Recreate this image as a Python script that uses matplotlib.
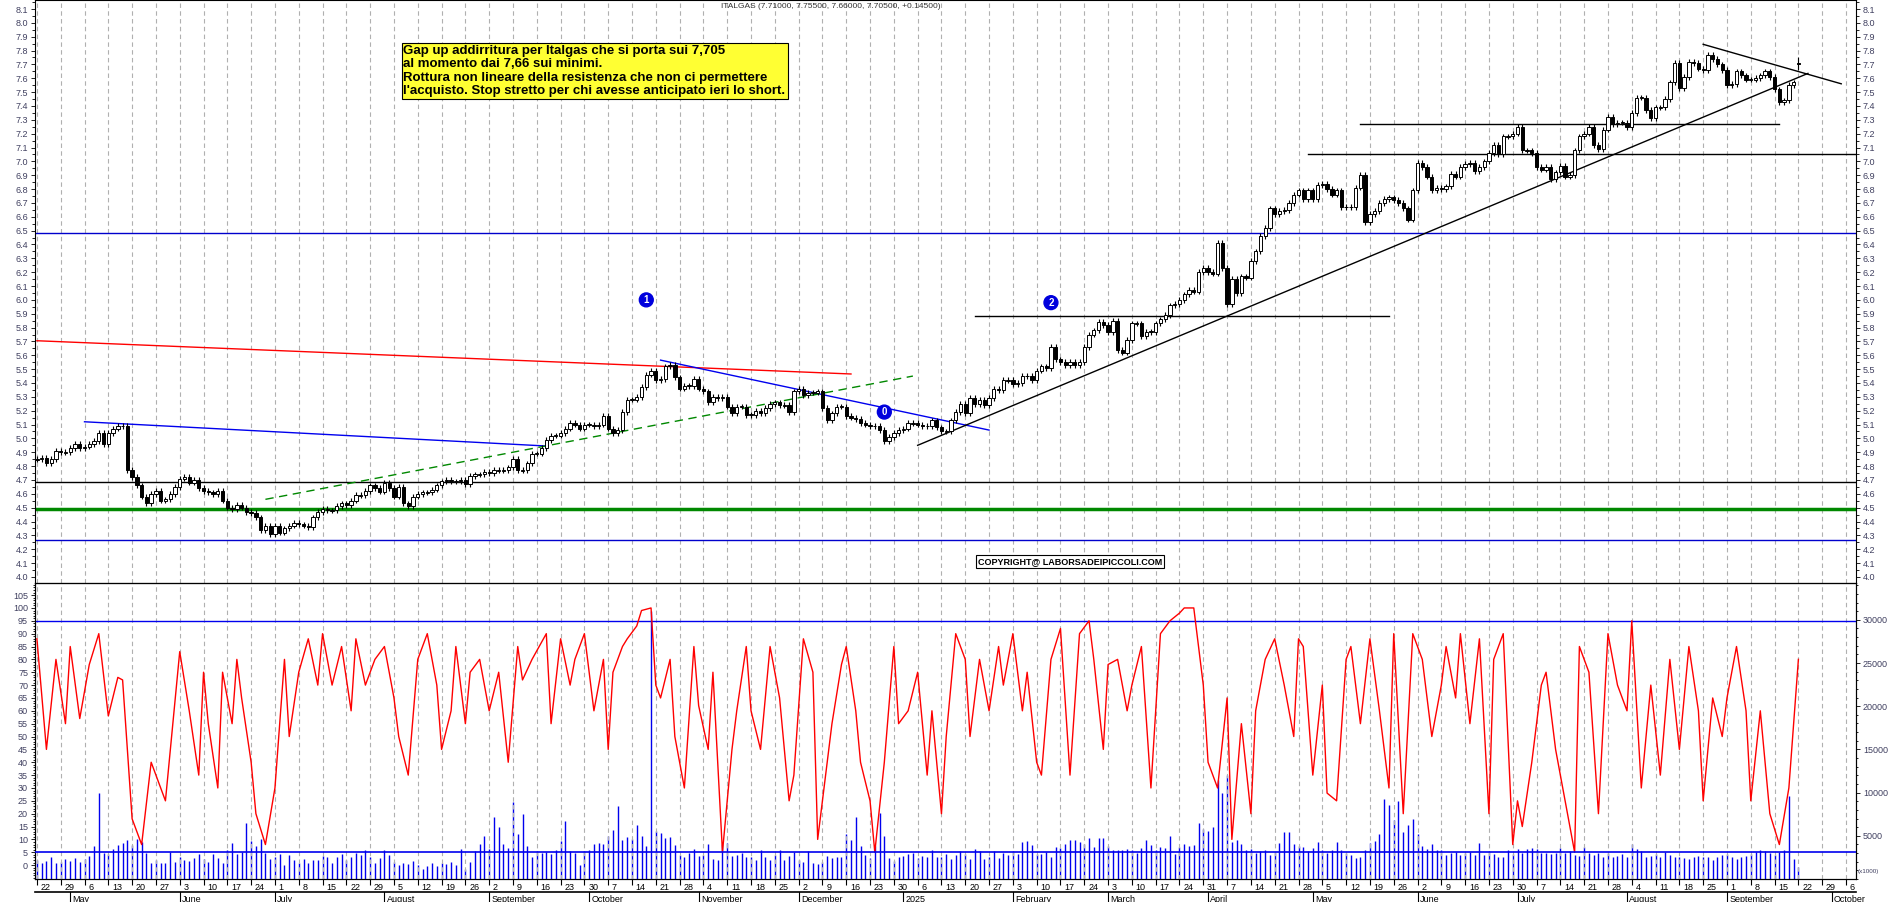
import numpy as np
import pandas as pd
import matplotlib
matplotlib.use("Agg")
import matplotlib.pyplot as plt
from matplotlib.ticker import MultipleLocator, FixedLocator

plt.rcParams["font.family"] = "Liberation Sans"

START = "2024-04-22"
LAST = "2025-09-22"

closes = [
 4.85,4.86,4.82,4.85,4.91,4.90,4.90,4.93,4.96,4.93,4.94,4.96,4.98,5.04,4.96,5.04,5.07,5.09,5.09,4.77,
 4.72,4.66,4.58,4.53,4.60,4.62,4.55,4.56,4.60,4.65,4.71,4.72,4.68,4.70,4.64,4.62,4.61,4.60,4.62,4.55,4.50,
 4.49,4.52,4.50,4.47,4.46,4.43,4.34,4.37,4.31,4.37,4.32,4.35,4.37,4.39,4.38,
 4.37,4.36,4.43,4.47,4.49,4.48,4.48,4.51,4.53,4.52,4.55,4.59,4.59,4.62,4.66,4.64,4.615,4.68,4.64,4.58,
 4.65,4.53,4.51,4.58,4.60,4.61,4.61,4.63,4.66,4.69,4.70,4.69,4.69,4.70,4.67,4.73,4.74,4.74,4.76,
 4.75,4.77,4.77,4.77,4.79,4.85,4.77,4.77,4.82,4.89,4.89,4.93,4.99,5.02,5.02,5.04,5.07,5.11,
 5.10,5.07,5.10,5.10,5.09,5.10,5.16,5.07,5.04,5.06,5.19,5.28,5.28,5.30,5.37,5.46,5.49,5.42,5.43,
 5.52,5.53,5.44,5.36,5.38,5.38,5.43,5.36,5.34,5.26,5.30,5.29,5.30,5.23,5.18,5.23,5.23,5.17,5.17,5.20,
 5.18,5.22,5.25,5.26,5.24,5.24,5.19,5.34,5.36,5.31,5.33,5.33,5.34,5.22,5.13,5.18,5.23,5.23,5.16,5.15,
 5.14,5.11,5.10,5.09,5.09,5.06,4.98,5.01,5.04,5.06,5.07,5.11,5.11,5.10,5.09,5.09,5.13,5.08,5.05,5.05,
 5.13,5.19,5.25,5.18,5.29,5.25,5.28,5.24,5.29,5.36,5.35,5.42,5.42,5.39,5.40,5.45,5.45,5.42,5.49,5.52,
 5.51,5.66,5.57,5.55,5.53,5.55,5.53,5.55,5.66,5.75,5.78,5.84,5.82,5.77,5.85,5.64,5.62,5.71,5.83,5.83,
 5.74,5.77,5.77,5.83,5.86,5.89,5.96,5.97,6.00,6.04,6.07,6.06,6.20,
 6.23,6.20,6.19,6.41,6.23,5.97,6.15,6.05,6.17,6.16,6.28,6.35,6.46,6.52,6.66,6.62,6.64,6.65,6.70,6.76,
 6.79,6.73,6.79,6.73,6.83,6.84,6.80,6.76,6.79,6.67,6.67,6.67,6.81,6.90,6.56,6.62,6.64,6.70,6.73,6.74,6.72,6.70,6.66,
 6.58,6.79,6.99,6.96,6.89,6.79,6.81,6.80,6.82,6.91,6.89,6.96,6.98,6.99,6.93,6.96,7.00,7.06,7.12,7.05,
 7.18,7.18,7.20,7.25,7.08,7.08,7.06,6.96,6.94,6.96,6.87,6.92,6.97,6.89,6.90,7.08,7.18,7.20,7.25,7.12,
 7.09,7.23,7.32,7.27,7.28,7.28,7.25,7.35,7.46,7.46,7.37,7.31,
 7.39,7.39,7.45,7.57,7.71,7.53,7.61,7.72,7.71,7.67,7.66,7.77,7.74,7.70,7.66,7.55,7.56,7.65,7.62,7.59,
 7.59,7.60,7.62,7.65,7.61,7.52,7.43,7.44,7.55,7.57,7.705]
last_ohlc = [7.71, 7.755, 7.66, 7.705]

volume_k = [
 2.2,1.9,2.1,2.6,1.8,2.0,2.3,2.1,2.4,2.0, 2.3,2.7,3.8,9.9,3.0,2.9,3.5,3.9,4.2,4.5,
 3.9,4.6,4.3,3.0,1.8,2.2,1.9,1.8,3.1,2.0, 2.5,2.2,2.1,2.4,2.9,2.3,2.0,2.9,2.4,1.8,
 3.4,4.2,2.9,3.1,6.5,4.4,3.8,4.6,3.0,2.3, 2.5,2.9,1.6,2.8,2.2,1.9,2.3,1.8,2.2,2.2,
 2.7,2.6,1.8,2.6,2.9,2.2,2.6,3.0,2.8,3.4, 2.6,1.9,2.4,3.3,2.8,2.0,1.6,1.9,1.7,2.1,
 1.6,1.2,1.5,1.8,1.5,1.9,1.7,2.0,1.6,3.5, 1.2,2.0,3.2,4.0,5.0,3.5,7.2,6.0,4.1,3.6,
 8.9,5.2,7.5,3.8,2.5,3.2,3.0,3.1,2.9,3.3, 4.4,6.7,3.2,3.0,1.6,3.2,3.3,4.0,4.2,4.1,
 5.0,5.7,8.5,4.5,4.9,4.6,6.2,5.0,3.8,31.0, 5.5,5.3,4.8,4.9,3.9,2.8,2.6,3.0,3.5,2.7,
 2.8,4.0,2.3,2.2,4.1,4.2,2.7,2.8,3.0,2.6, 2.6,2.2,3.3,2.5,2.2,2.8,3.3,2.2,2.7,3.1,
 2.2,2.0,3.2,1.9,1.7,2.0,2.7,2.4,2.6,2.5, 5.2,4.5,7.2,3.8,2.8,2.4,3.8,7.6,5.0,2.4,
 2.1,2.6,2.7,2.9,3.0,2.4,2.7,2.5,3.3,2.6, 2.5,2.9,2.3,2.8,3.2,2.9,2.3,3.5,3.2,2.3,
 2.6,3.2,2.4,3.0,2.8,3.2,2.9,4.3,4.4,3.9, 2.9,2.9,3.1,2.5,3.7,3.6,4.0,4.5,4.5,4.3,
 4.0,4.7,3.7,4.7,4.7,3.8,3.3,3.3,3.4,3.5, 3.4,3.0,3.6,4.5,3.9,3.4,3.7,3.6,5.0,2.9,
 3.7,4.0,3.8,3.9,6.5,5.8,5.5,6.0,11.5,10.0, 12.0,4.3,4.5,4.0,3.4,3.5,3.0,3.2,3.3,2.8,
 3.1,4.2,5.4,5.4,4.0,3.8,3.7,3.2,3.6,4.3, 3.3,3.0,3.3,4.3,3.3,3.0,2.8,2.4,2.6,3.3,
 4.2,4.4,5.2,9.3,8.6,6.8,9.0,5.4,6.3,7.0, 5.2,3.8,3.5,4.0,3.3,3.3,2.8,3.0,3.1,2.8,
 3.0,3.1,2.8,4.2,2.8,3.2,2.9,2.6,2.6,3.3, 2.9,3.5,3.0,3.5,3.6,3.5,3.0,3.0,2.9,3.0,
 3.6,3.0,3.2,2.8,2.7,3.7,3.0,2.8,3.0,2.6, 3.0,2.5,2.7,2.9,2.6,4.0,3.5,3.2,2.6,2.7,
 2.9,2.5,3.1,2.8,2.6,2.5,2.4,2.3,2.5,2.7, 2.6,2.5,2.2,2.6,2.8,2.9,2.6,2.3,2.5,2.7,
 2.9,3.1,3.3,3.2,3.0,2.8,3.1,3.4,9.6,2.3,1.4]

osc_day = [0,2,4,6,7,9,11,13,15,17,18,20,22,24,26,27,30,32,34,35,36,38,39,41,42,43,45,46,48,50,
 52,53,55,57,59,60,62,64,66,67,69,71,73,75,76,78,80,82,84,85,87,88,90,91,93,95,97,99,101,102,
 104,107,108,110,112,113,115,117,119,120,121,123,124,126,127,129,130,131,133,134,136,138,139,141,142,144,146,147,149,150,
 152,154,156,158,159,161,163,164,166,167,169,170,172,173,175,176,178,180,181,183,185,187,188,190,191,193,195,196,198,200,
 202,203,205,207,208,210,211,213,215,217,219,221,222,224,225,227,229,230,232,234,236,238,240,241,243,245,246,248,250,251,
 253,255,256,258,260,262,264,265,266,268,270,271,273,275,276,278,280,282,284,285,287,289,291,293,295,296,298,299,301,303,
 305,306,308,310,311,312,314,316,317,319,321,323,324,326,328,330,332,334,335,337,339,341,343,345,347,349,350,352,354,355,
 357,359,360,362,364,366,368,369,370]
osc_val = [88,45,80,55,85,57,78,90,58,73,72,18,8,40,30,25,83,60,35,75,55,30,75,55,80,65,40,20,8,30,
 80,50,75,88,70,90,70,85,60,88,70,80,85,65,50,35,80,90,70,45,60,85,55,75,80,60,75,40,85,72,
 80,90,55,88,70,80,90,60,80,45,75,85,88,93,99,100,70,65,80,50,30,85,62,45,75,5,45,60,85,60,
 45,85,65,25,35,88,75,10,40,55,78,85,60,40,25,5,40,85,55,60,75,35,60,20,50,90,80,50,80,60,
 85,70,90,60,75,40,35,80,92,35,90,95,80,45,78,80,60,70,85,30,90,95,98,100,100,70,40,30,65,10,
 55,20,60,80,88,70,50,88,85,35,70,28,25,80,85,55,88,60,30,90,20,90,80,50,70,85,65,90,55,88,
 20,80,90,8,25,15,40,70,75,45,25,5,85,75,20,90,70,60,95,30,70,35,80,45,85,60,25,65,50,65,
 85,60,25,60,20,8,30,55,80]

hlines_full = [(6.485, "#0000cc", 1.0), (4.685, "black", 1.0), (4.49, "#008800", 2.5), (4.27, "#0000cc", 1.0)]
seg_lines = [  # (date0, p0, date1, p1, color, style)
 ("2024-04-22", 5.705, "2024-12-17", 5.465, "red", "-"),
 ("2024-05-06", 5.12, "2024-09-18", 4.945, "#0000ee", "-"),
 ("2024-10-22", 5.565, "2025-01-27", 5.06, "#0000ee", "-"),
 ("2024-06-27", 4.56, "2025-01-03", 5.45, "#008800", (0, (6, 4))),
 ("2025-01-06", 4.95, "2025-09-24", 7.635, "black", "-"),
 ("2025-08-25", 7.845, "2025-10-03", 7.56, "black", "-"),
 ("2025-01-22", 5.885, "2025-05-23", 5.885, "black", "-"),
 ("2025-04-30", 7.05, "2025-11-30", 7.05, "black", "-"),
 ("2025-05-15", 7.27, "2025-09-16", 7.27, "black", "-"),
]
markers = [("2024-10-17", 6.0, "1"), ("2025-02-13", 5.98, "2"), ("2024-12-26", 5.19, "0")]

def pos(d):
    return float(np.busday_count(np.datetime64(START), np.datetime64(d)))

n = len(closes)
end_pos = pos(LAST)
xs = np.arange(n) + (end_pos - (n - 1))
c = np.array(closes)
o = np.r_[c[0], c[:-1]]
o[-1] = last_ohlc[0]
h = np.maximum(o, c) + 0.02
l = np.minimum(o, c) - 0.02
h[-1], l[-1] = last_ohlc[1], last_ohlc[2]

fig = plt.figure(figsize=(18.9, 9.02), dpi=100)
L, R = 35/1890, 1856/1890
ax = fig.add_axes([L, 1-583/902, R-L, 583/902])
axb = fig.add_axes([L, 1-879/902, R-L, 296/902])
XL = (-0.4, 382.1)
for a in (ax, axb):
    a.set_xlim(*XL)
    for s in a.spines.values():
        s.set_linewidth(0.8)
ax.set_ylim(3.956, 8.165)
axb.set_ylim(-5.4, 109.7)

weeks = np.arange(0, 385, 5)
for a in (ax, axb):
    for w in weeks:
        a.axvline(w, color="#b0b0b0", lw=0.8, ls=(0, (4, 3)), zorder=0)

# candles
up = c >= o
flat = np.abs(c - o) < 0.005
body = np.where(flat, 0.006, c - o)
ax.vlines(xs, l, h, color="black", lw=0.8, zorder=3)
ax.bar(xs, body, bottom=np.where(flat, c - 0.003, o), width=0.7,
       color=np.where(up, "white", "black"), edgecolor="black", linewidth=0.7, zorder=4)

for y, col, lw in hlines_full:
    ax.axhline(y, color=col, lw=lw, zorder=2)
for d0, p0, d1, p1, col, ls in seg_lines:
    ax.plot([pos(d0), pos(d1)], [p0, p1], color=col, lw=1.0, ls=ls, zorder=2)
for d, p, t in markers:
    ax.text(pos(d), p, t, color="white", fontsize=7, fontweight="bold", ha="center", va="center",
            bbox=dict(boxstyle="circle,pad=0.2", fc="#0000dd", ec="#0000dd"), zorder=6)

ax.text(pos("2024-08-07"), 7.84,
        "Gap up addirritura per Italgas che si porta sui 7,705\nal momento dai 7,66 sui minimi.\n"
        "Rottura non lineare della resistenza che non ci permettere\nl'acquisto. Stop stretto per chi avesse anticipato ieri lo short.",
        fontsize=9.5, fontweight="bold", va="top", ha="left", linespacing=1.15,
        bbox=dict(boxstyle="square,pad=0.15", fc="#ffff33", ec="black", lw=0.8), zorder=7)
ax.text(pos("2025-02-19"), 4.11, "COPYRIGHT@ LABORSADEIPICCOLI.COM", fontsize=6.5, fontweight="bold",
        ha="center", va="center", bbox=dict(boxstyle="square,pad=0.2", fc="white", ec="black", lw=0.8), zorder=7)
fig.text(831/1890, 0.997, "ITALGAS (7.71000, 7.75500, 7.66000, 7.70500, +0.14500)", fontsize=6,
         ha="center", va="top", color="#333333")

# price axis ticks
tc = "#404060"
ax.yaxis.set_major_locator(FixedLocator(np.round(np.arange(4.0, 8.15, 0.1), 1)))
ax.yaxis.set_minor_locator(MultipleLocator(0.05))
ax.yaxis.set_major_formatter(matplotlib.ticker.FormatStrFormatter("%.1f"))
ax.tick_params(axis="y", which="both", left=True, right=True, labelleft=True, labelright=True,
               labelsize=6.5, labelcolor=tc, length=3, width=0.6, pad=2)
ax.tick_params(axis="y", which="minor", length=2)
ax.set_xticks([])

# bottom panel
axb.plot(osc_day, osc_val, color="red", lw=1.0, zorder=3)
axb.axhline(95, color="#0000ee", lw=1.0, zorder=2)
axb.axhline(5, color="#0000ee", lw=1.2, zorder=5)
axb.yaxis.set_major_locator(FixedLocator(np.arange(0, 106, 5)))
axb.yaxis.set_minor_locator(MultipleLocator(1))
axb.tick_params(axis="y", which="both", labelsize=6.5, labelcolor=tc, length=3, width=0.6, pad=2)
axb.tick_params(axis="y", which="minor", length=1.5)
axv = axb.twinx()
axv.set_xlim(*XL)
axv.set_ylim(0, 34260)
vx = np.arange(len(volume_k)) + (end_pos - (len(volume_k) - 1))
axv.vlines(vx, 0, np.array(volume_k) * 1000, color="#0000ee", lw=1.0, zorder=2)
axv.set_yticks(np.arange(5000, 30001, 5000))
axv.yaxis.set_minor_locator(MultipleLocator(1000))
axv.tick_params(axis="y", which="both", labelsize=6.5, labelcolor=tc, length=3, width=0.6, pad=2)
axv.tick_params(axis="y", which="minor", length=1.5)
axb.set_zorder(axv.get_zorder() + 1)
axb.patch.set_visible(False)
fig.text(1858/1890, 1-872/902, "(x1000)", fontsize=4.5, ha="left", va="center", color=tc)

# date axis
start = pd.Timestamp(START)
axb.set_xticks(weeks)
axb.set_xticklabels([])
axb.tick_params(axis="x", length=4, width=0.8, direction="out")
trans = axb.get_xaxis_transform()
for w in weeks:
    d = start + pd.offsets.BDay(int(w))
    axb.text(w + 0.8, -0.012, str(d.day), transform=trans, fontsize=6.5, ha="left", va="top", color="black")
months = pd.date_range("2024-05-01", "2025-10-01", freq="BMS")
for m in months:
    p = pos(m.strftime("%Y-%m-%d"))
    lab = "2025" if (m.month == 1) else m.strftime("%B")
    axb.text(p + 0.5, -0.055, lab, transform=trans, fontsize=6.5, ha="left", va="top", color="black")
    axb.plot([p, p], [-0.045, -0.09], transform=trans, color="black", lw=0.8, clip_on=False)
axb.plot([XL[0], XL[1]], [-0.045, -0.045], transform=trans, color="black", lw=1.2, clip_on=False)

fig.savefig("out.png", dpi=100)
